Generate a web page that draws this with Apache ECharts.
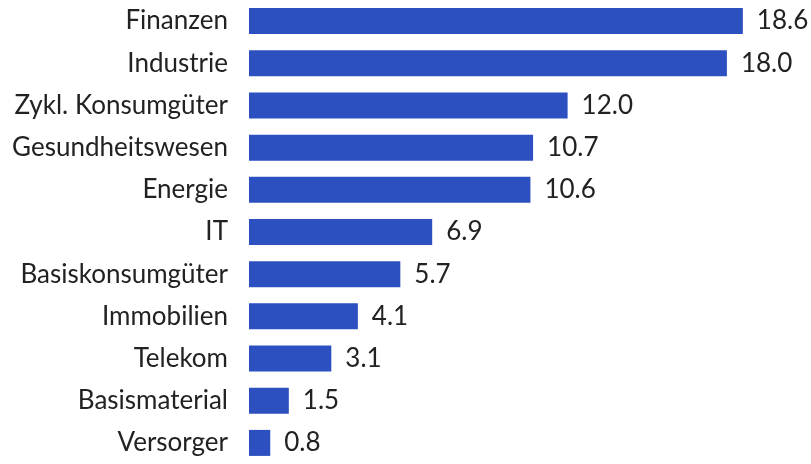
<!DOCTYPE html>
<html>
<head>
<meta charset="utf-8">
<script src="https://cdn.jsdelivr.net/npm/echarts@6/dist/echarts.min.js"></script>
<style>
  html, body { margin: 0; padding: 0; background: #fff; }
</style>
</head>
<body>
<div id="main" style="width: 811px;height: 464px;"></div>
<script>
// Sektoren und Gewichte (%)
var sectors = ['Finanzen', 'Industrie', 'Zykl. Konsumgüter', 'Gesundheitswesen', 'Energie', 'IT',
  'Basiskonsumgüter', 'Immobilien', 'Telekom', 'Basismaterial', 'Versorger'];
var weights = [18.6, 18.0, 12.0, 10.7, 10.6, 6.9, 5.7, 4.1, 3.1, 1.5, 0.8];

var chart = echarts.init(document.getElementById('main'));
chart.setOption({
  animation: false,
  grid: { left: 249, right: 31, top: 0, bottom: -3 },
  xAxis: {
    type: 'value',
    min: 0,
    max: 20,
    show: false
  },
  yAxis: {
    type: 'category',
    data: sectors,
    inverse: true,
    axisLine: { show: false },
    axisTick: { show: false },
    axisLabel: {
      margin: 21,
      fontFamily: 'Lato',
      fontSize: 26,
      color: '#222'
    }
  },
  series: [{
    type: 'bar',
    data: weights,
    barWidth: 26,
    itemStyle: { color: '#2C50BF' },
    label: {
      show: true,
      position: 'right',
      distance: 14,
      fontFamily: 'Lato',
      fontSize: 26,
      color: '#222',
      formatter: function (p) { return p.value.toFixed(1); }
    }
  }]
});
</script>
</body>
</html>
